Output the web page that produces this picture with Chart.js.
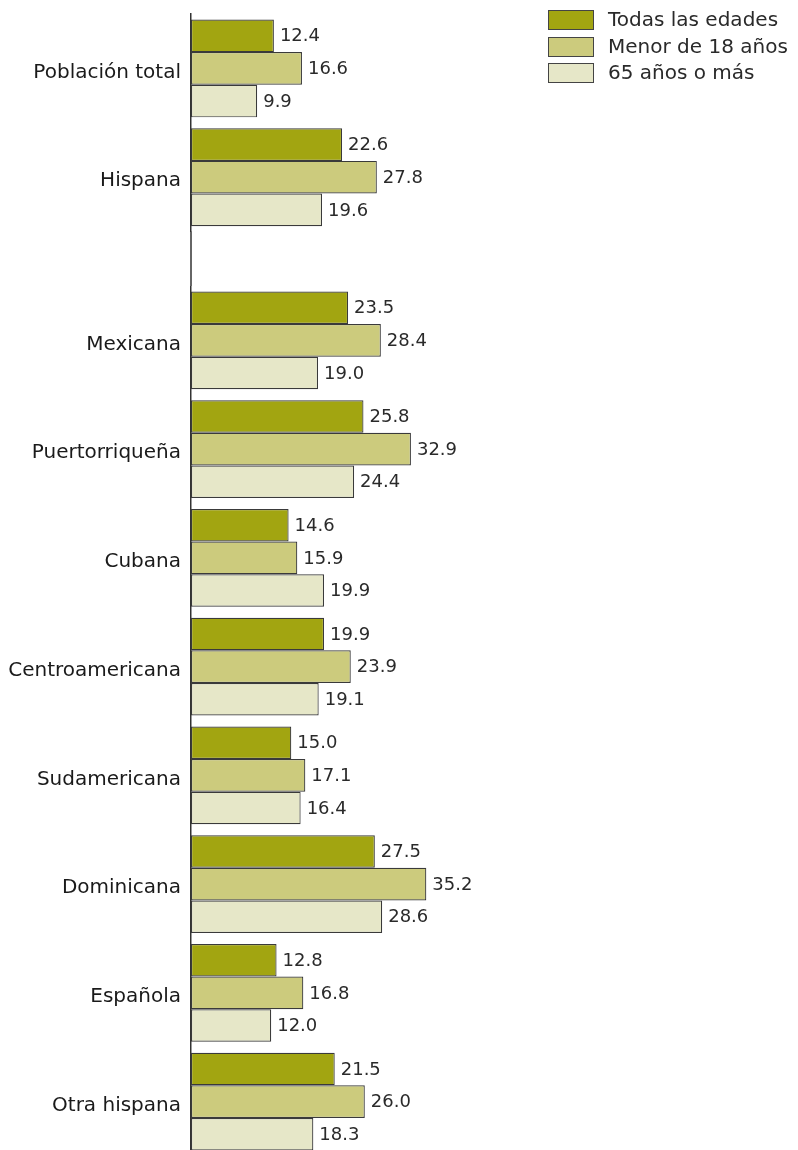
<!DOCTYPE html>
<html>
<head>
<meta charset="utf-8">
<script src="https://cdn.jsdelivr.net/npm/chart.js@4/dist/chart.umd.min.js"></script>
<style>
  html, body { margin: 0; padding: 0; background: #fff; }
  #wrap { position: relative; width: 798px; height: 1150px; overflow: hidden; }
  #top { position: absolute; left: 0; top: 0; }
  #bottom { position: absolute; left: 0; top: 286px; }
  .leg { position: absolute; left: 548px; font: 20px "DejaVu Sans", sans-serif; color: #2a2a2a; }
  .leg span { position: absolute; left: 0; width: 44px; height: 18px; border: 1.5px solid #444; }
  .leg b { position: absolute; left: 60px; top: -3px; font-weight: normal; white-space: nowrap; }
</style>
</head>
<body>
<div id="wrap">
  <canvas id="top" width="798" height="286"></canvas>
  <canvas id="bottom" width="798" height="870"></canvas>
  <div id="legend"></div>
</div>
<script>
const categories = ["Población total", "Hispana", "Mexicana", "Puertorriqueña", "Cubana",
    "Centroamericana", "Sudamericana", "Dominicana", "Española", "Otra hispana"];
const seriesNames = ["Todas las edades", "Menor de 18 años", "65 años o más"];
const todas = [12.4, 22.6, 23.5, 25.8, 14.6, 19.9, 15.0, 27.5, 12.8, 21.5];
const menor = [16.6, 27.8, 28.4, 32.9, 15.9, 23.9, 17.1, 35.2, 16.8, 26.0];
const mayores = [9.9, 19.6, 19.0, 24.4, 19.9, 19.1, 16.4, 28.6, 12.0, 18.3];
const colors = ["#a2a511", "#cccb7d", "#e6e7c8"];

const FONT = '"DejaVu Sans", sans-serif';
const series = [todas, menor, mayores];

// value text at the end of each bar
const valueLabels = {
    id: "valueLabels",
    afterDatasetsDraw(chart) {
        const ctx = chart.ctx;
        ctx.save();
        ctx.font = "18px " + FONT;
        ctx.fillStyle = "#2a2a2a";
        ctx.textBaseline = "middle";
        chart.data.datasets.forEach((ds, i) => {
            chart.getDatasetMeta(i).data.forEach((bar, j) => {
                ctx.fillText(ds.data[j].toFixed(1), bar.x + 6, bar.y + 1);
            });
        });
        ctx.restore();
    },
};

// continue the axis line down through the gap under the top chart
const axisTail = {
    id: "axisTail",
    afterDraw(chart) {
        const ctx = chart.ctx;
        const x = chart.scales.y.right;
        ctx.save();
        ctx.strokeStyle = "#333";
        ctx.lineWidth = 1.5;
        ctx.beginPath();
        ctx.moveTo(x, chart.chartArea.bottom);
        ctx.lineTo(x, chart.height);
        ctx.stroke();
        ctx.restore();
    },
};

const makeChart = (el, from, to, padding, extra) => new Chart(el, {
    type: "bar",
    data: {
        labels: categories.slice(from, to),
        datasets: series.map((s, i) => ({
            label: seriesNames[i],
            data: s.slice(from, to),
            backgroundColor: colors[i],
            borderColor: "#3a3a3a",
            borderWidth: 1.2,
            borderSkipped: false,
            categoryPercentage: 0.9,
            barPercentage: 1.0,
        })),
    },
    options: {
        indexAxis: "y",
        responsive: false,
        animation: false,
        devicePixelRatio: 1,
        layout: { padding: padding },
        plugins: { legend: { display: false }, tooltip: { enabled: false } },
        scales: {
            x: { display: false, min: 0, max: 90.8 },
            y: {
                grid: { display: false, drawTicks: false },
                border: { display: true, color: "#333", width: 1.5 },
                ticks: { color: "#1a1a1a", font: { family: FONT, size: 20 }, padding: 10, labelOffset: 4 },
                afterFit(scale) {
                    scale.width = 191;
                    scale.paddingTop = 0;
                    scale.paddingBottom = 0;
                },
            },
        },
    },
    plugins: extra,
});

makeChart(document.getElementById("top"), 0, 2, { top: 14, bottom: 54.4, left: 0, right: 0 }, [valueLabels, axisTail]);
makeChart(document.getElementById("bottom"), 2, 10, { top: 0, bottom: 0, left: 0, right: 0 }, [valueLabels]);

const legend = document.getElementById("legend");
seriesNames.forEach((name, i) => {
    const row = document.createElement("div");
    row.className = "leg";
    row.style.top = (10 + i * 26.5) + "px";
    row.innerHTML = '<span style="background:' + colors[i] + '"></span><b>' + name + "</b>";
    legend.appendChild(row);
});
</script>
</body>
</html>
